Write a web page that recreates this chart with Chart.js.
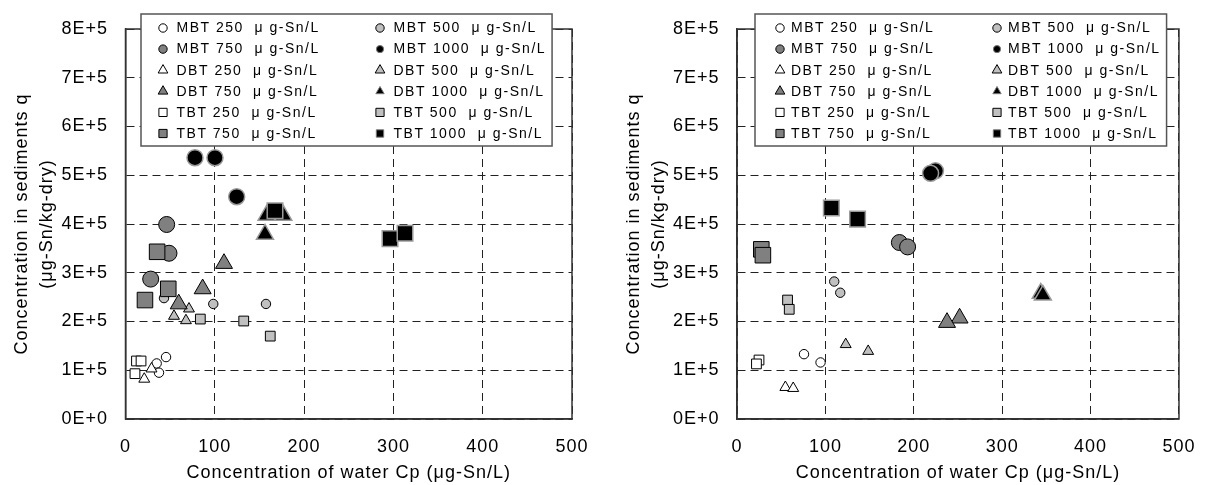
<!DOCTYPE html>
<html><head><meta charset="utf-8">
<script src="https://cdn.jsdelivr.net/npm/chart.js@4.4.1/dist/chart.umd.min.js"></script>
<style>
html,body{margin:0;padding:0;background:#fff;}
#wrap{position:relative;width:1211px;height:485px;overflow:hidden;}
canvas{position:absolute;top:0;}
</style></head><body>
<div id="wrap">
<canvas id="c1" width="605" height="485" style="left:0;width:605px;height:485px"></canvas>
<canvas id="c2" width="606" height="485" style="left:605px;width:606px;height:485px"></canvas>
</div>
<script>
// ---------- tick labels & categories ----------
const xTickValues = [0, 100, 200, 300, 400, 500];
const yTickLabels = ['0E+0','1E+5','2E+5','3E+5','4E+5','5E+5','6E+5','7E+5','8E+5'];
const seriesNames = ['MBT 250','MBT 500','MBT 750','MBT 1000',
                     'DBT 250','DBT 500','DBT 750','DBT 1000',
                     'TBT 250','TBT 500','TBT 750','TBT 1000'];
const unitText = '  μ g-Sn/L';
const xTitle = 'Concentration of water Cp (μg-Sn/L)';
const yTitle = ['Concentration in sediments q', '(μg-Sn/kg-dry)'];

// ---------- left chart data [Cp, q] ----------
const leftMBT250  = [[34.9,114000],[45.4,127000],[37.5,95000]];
const leftMBT500  = [[43.1,248000],[98.3,236000],[157.3,236000]];
const leftMBT750  = [[28.2,287000],[46.1,399000],[48.7,340000]];
const leftMBT1000 = [[77.8,536000],[100.2,536000],[124.5,456000]];
const leftDBT250  = [[21.0,82000],[29.1,103000]];
const leftDBT500  = [[54.3,211000],[67.7,202000],[71.1,226000]];
const leftDBT750  = [[59.6,236000],[86.4,267000],[110.3,319000]];
const leftDBT1000 = [[156.2,379000],[158.0,418000],[176.7,418000]];
const leftTBT250  = [[12.3,119000],[17.4,119000],[10.6,93000]];
const leftTBT500  = [[83.8,205000],[132.4,201000],[162.1,170000]];
const leftTBT750  = [[21.8,244000],[35.4,343000],[47.9,267000]];
const leftTBT1000 = [[167.4,427000],[296.2,370000],[313.0,381000]];

// ---------- right chart data [Cp, q] ----------
const rightMBT250  = [[75.8,133000],[94.5,116000]];
const rightMBT500  = [[110.0,282000],[116.8,259000]];
const rightMBT750  = [[183.7,362000],[193.0,353000]];
const rightMBT1000 = [[224.5,509000],[219.0,504000]];
const rightDBT250  = [[54.7,65000],[63.6,63000]];
const rightDBT500  = [[123.0,153000],[148.4,139000]];
const rightDBT750  = [[251.8,207000],[237.6,198000]];
const rightDBT1000 = [[343.6,258000],[346.0,254000]];
const rightTBT250  = [[24.9,121000],[22.0,113000]];
const rightTBT500  = [[57.2,244000],[59.1,225000]];
const rightTBT750  = [[27.5,348000],[29.3,336000]];
const rightTBT1000 = [[106.7,433000],[136.4,410000]];

const leftSeries  = [leftMBT250,leftMBT500,leftMBT750,leftMBT1000,leftDBT250,leftDBT500,leftDBT750,leftDBT1000,leftTBT250,leftTBT500,leftTBT750,leftTBT1000];
const rightSeries = [rightMBT250,rightMBT500,rightMBT750,rightMBT1000,rightDBT250,rightDBT500,rightDBT750,rightDBT1000,rightTBT250,rightTBT500,rightTBT750,rightTBT1000];

// ---------- styles ----------
const FONT = '"Liberation Sans", Arial, sans-serif';
const fills = {'250':'#ffffff','500':'#c0c0c0','750':'#808080','1000':'#000000'};
const shapeOf = {MBT:'circle', DBT:'triangle', TBT:'rect'};
const radii = {
  circle:   {small:4.7, big:8.0},
  triangle: {small:6.3, big:9.8},
  rect:     {small:6.9, big:11.0}
};
function styleFor(name){
  const [comp, conc] = name.split(' ');
  const ps = shapeOf[comp];
  const big = (conc === '750' || conc === '1000');
  return {
    ps, r: radii[ps][big ? 'big' : 'small'],
    fill: fills[conc],
    stroke: conc === '1000' ? '#9a9a9a' : '#000000',
    bw: conc === '1000' ? 1.5 : 1
  };
}

function drawMarker(ctx, ps, x, y, r){
  ctx.beginPath();
  if (ps === 'circle') {
    ctx.arc(x, y, r, 0, Math.PI*2);
  } else if (ps === 'triangle') {
    for (let k=0;k<3;k++){
      const a = k*2*Math.PI/3;
      const px = x + Math.sin(a)*r, py = y - Math.cos(a)*r;
      if (k===0) ctx.moveTo(px,py); else ctx.lineTo(px,py);
    }
    ctx.closePath();
  } else {
    const h = r*Math.SQRT1_2;
    ctx.rect(x-h, y-h, 2*h, 2*h);
  }
  ctx.fill(); ctx.stroke();
}

const spacingPlugin = {
  id:'spacing',
  beforeDraw(chart){ chart.ctx.letterSpacing = '1px'; },
  beforeDatasetsDraw(chart){ chart.ctx.letterSpacing = '1.6px'; }
};

const framePlugin = {
  id:'frame',
  beforeDatasetsDraw(chart){
    const {ctx, chartArea:a} = chart;
    ctx.save();
    ctx.setLineDash([]);
    ctx.strokeStyle = '#333';
    ctx.lineWidth = 1.5;
    ctx.strokeRect(a.left, a.top, a.right-a.left, a.bottom-a.top);
    ctx.restore();
  }
};

const boxLegend = {
  id:'boxLegend',
  afterDraw(chart, args, o){
    const ctx = chart.ctx;
    ctx.save();
    ctx.setLineDash([]);
    ctx.letterSpacing = '1.5px';
    ctx.font = '14px ' + FONT;
    ctx.textBaseline = 'middle';
    ctx.textAlign = 'left';
    const ds = chart.data.datasets;
    let maxW2 = 0;
    ds.forEach((d,i)=>{ if (i%2===1) maxW2 = Math.max(maxW2, ctx.measureText(d.label).width); });
    const x0 = o.left, y0 = o.top;
    const w = (o.markerDx + o.col2Dx + o.textGap) + maxW2 + 6;
    ctx.fillStyle = '#fff';
    ctx.fillRect(x0, y0, w, o.height);
    ctx.strokeStyle = '#555';
    ctx.lineWidth = 1.5;
    ctx.strokeRect(x0, y0, w, o.height);
    ds.forEach((d,i)=>{
      const row = Math.floor(i/2), col = i%2;
      const y = o.rowY0 + row*o.rowDy;
      const mx = x0 + o.markerDx + col*o.col2Dx;
      const st = styleFor(seriesNames[i]);
      const big = seriesNames[i].endsWith('1000');
      const r = st.ps==='circle' ? (big?3.6:4.2) : st.ps==='triangle' ? (big?4.8:5.6) : (big?5.2:5.8);
      ctx.fillStyle = st.fill;
      ctx.strokeStyle = big ? '#777' : '#000';
      ctx.lineWidth = 1;
      drawMarker(ctx, st.ps, mx, y, r);
      ctx.fillStyle = '#000';
      ctx.fillText(d.label, mx + o.textGap, y + 0.5);
    });
    ctx.restore();
  }
};

function buildChart(id, canvasLeft, canvasW, plotLeft, plotRight, series, legendOpts, yTitlePad){
  const datasets = seriesNames.map((name,i)=>{
    const st = styleFor(name);
    return {
      label: name + unitText,
      data: series[i].map(p=>({x:p[0], y:p[1]})),
      pointStyle: st.ps,
      pointRadius: st.r,
      pointHoverRadius: st.r,
      backgroundColor: st.fill,
      borderColor: st.stroke,
      pointBorderWidth: st.bw,
      borderWidth: st.bw,
      showLine: false,
      order: -i
    };
  });
  const gridCommon = {display:true, color:'#222', lineWidth:1, drawTicks:false};
  return new Chart(document.getElementById(id), {
    type:'scatter',
    data:{datasets},
    plugins:[spacingPlugin, framePlugin, boxLegend],
    options:{
      responsive:false, animation:false, devicePixelRatio:1,
      layout:{padding:{left:0, top:29, right: canvasW - (plotRight - canvasLeft), bottom:0}},
      plugins:{legend:{display:false}, tooltip:{enabled:false}, boxLegend: legendOpts},
      scales:{
        x:{
          type:'linear', min:0, max:500,
          afterBuildTicks(s){ s.ticks = xTickValues.map(v=>({value:v})); },
          afterFit(s){ s.height = 66; },
          grid: gridCommon,
          border:{display:true, color:'#333', width:1.5, dash:[8,5]},
          ticks:{color:'#000', font:{size:18, family:FONT}, padding:17, maxRotation:0, autoSkip:false},
          title:{display:true, text:xTitle, color:'#000', font:{size:18, family:FONT, lineHeight:1.2}, padding:{top:0,bottom:1}}
        },
        y:{
          type:'linear', min:0, max:800000,
          afterBuildTicks(s){ s.ticks = yTickLabels.map((t,k)=>({value:k*100000})); },
          afterFit(s){ s.width = plotLeft - canvasLeft; },
          grid: gridCommon,
          border:{display:true, color:'#333', width:1.5, dash:[8,5]},
          ticks:{color:'#000', font:{size:18, family:FONT}, padding:17.5, autoSkip:false,
                 callback:(v,k)=>yTickLabels[Math.round(v/100000)]},
          title:{display:true, text:yTitle, color:'#000', font:{size:18, family:FONT, lineHeight:1.4}, padding:{top:yTitlePad,bottom:0}}
        }
      }
    }
  });
}

buildChart('c1', 0, 605, 125.5, 572, leftSeries,
  {left:141, top:14, height:132, rowY0:28, rowDy:21.1, markerDx:22, textGap:13.5, col2Dx:217}, 9.5);
buildChart('c2', 605, 606, 737, 1183.5, rightSeries,
  {left:755-605, top:14, height:132, rowY0:28, rowDy:21.1, markerDx:25, textGap:11, col2Dx:217}, 16);
</script>
</body></html>
